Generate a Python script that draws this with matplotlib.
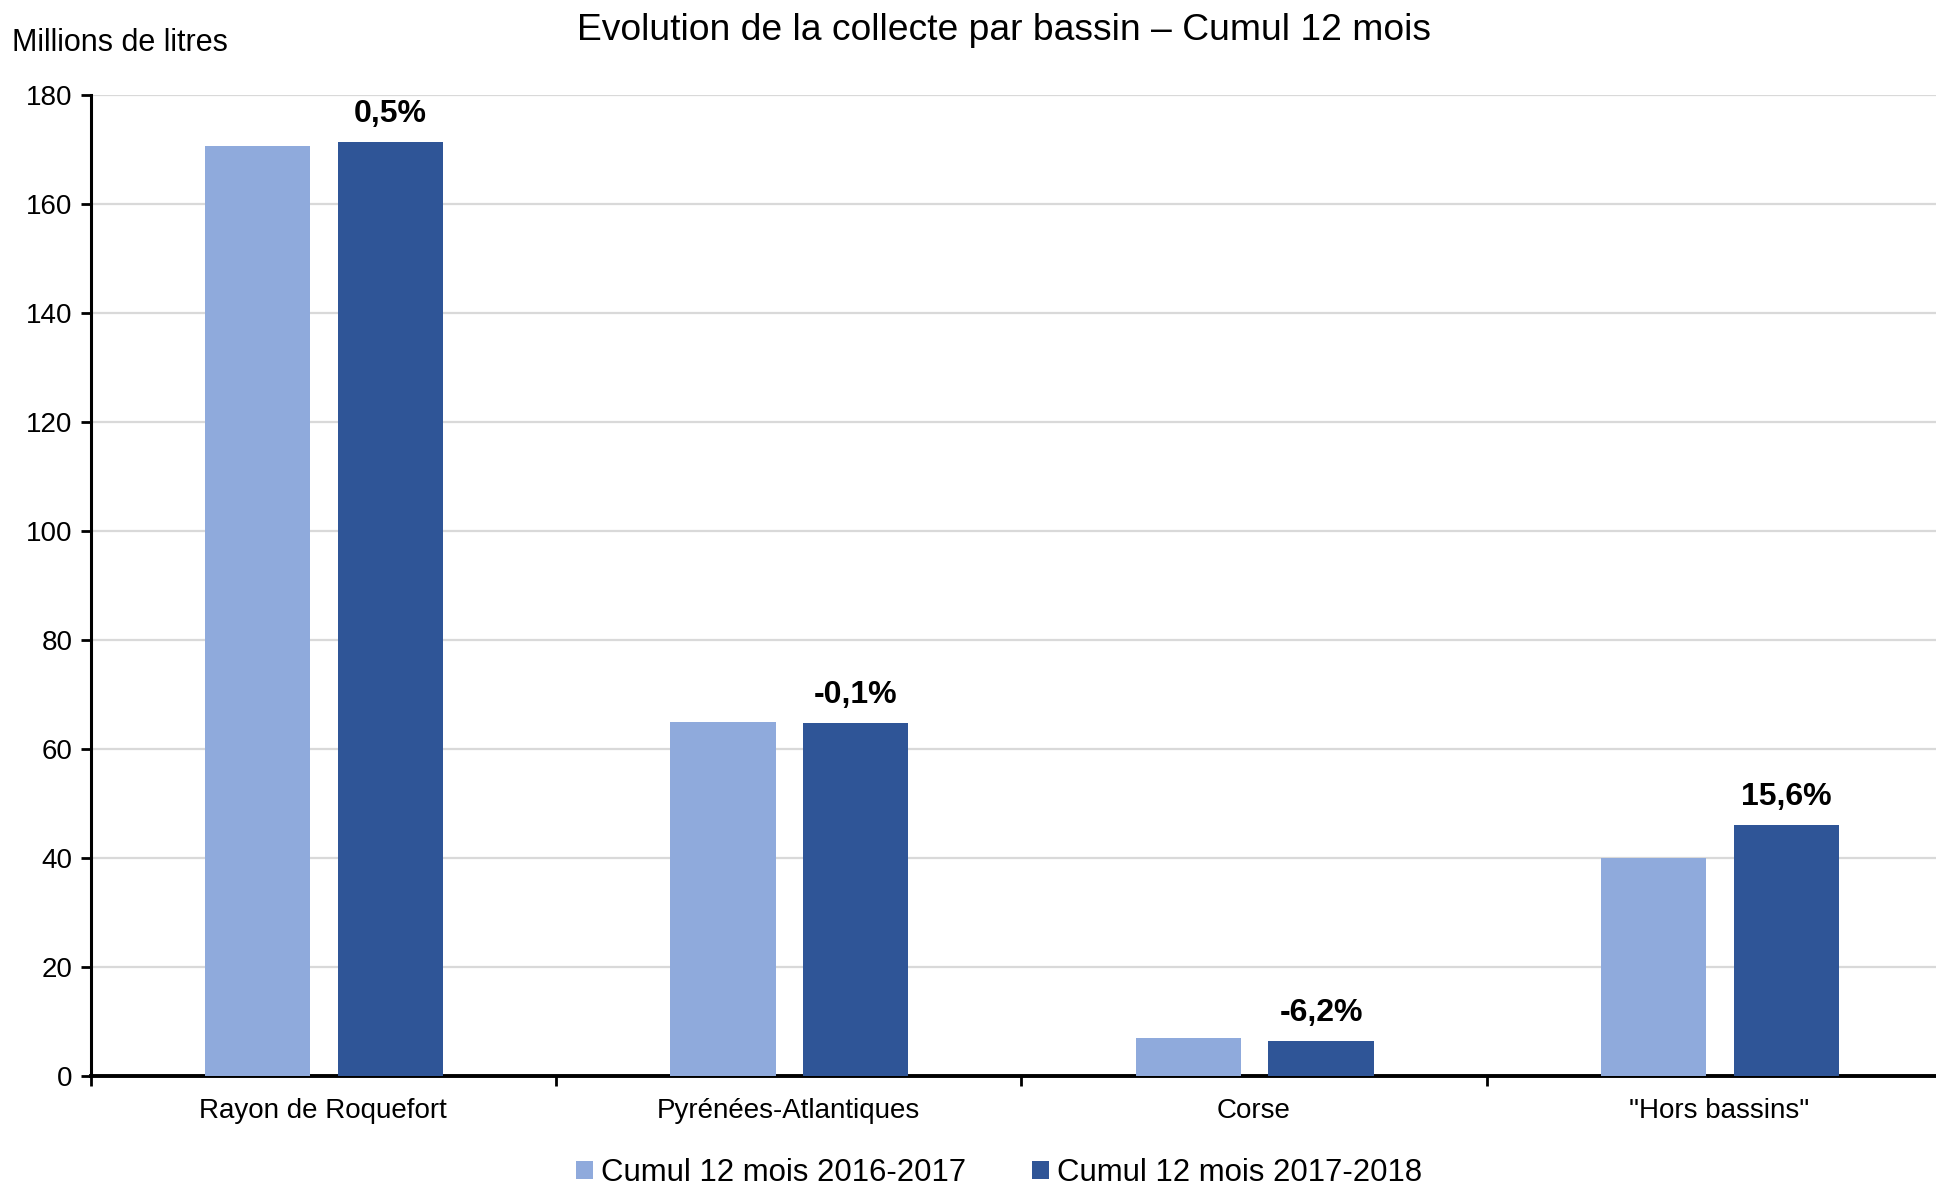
import matplotlib
matplotlib.use("Agg")
import matplotlib.pyplot as plt
import numpy as np

plt.rcParams['font.family'] = ['Liberation Sans', 'DejaVu Sans']

categories = ["Rayon de Roquefort", "Pyrénées-Atlantiques", "Corse", "\"Hors bassins\""]
serie_2016_2017 = [170.6, 64.9, 6.95, 39.95]
serie_2017_2018 = [171.4, 64.85, 6.5, 46.1]
evolutions = ["0,5%", "-0,1%", "-6,2%", "15,6%"]
series_labels = ["Cumul 12 mois 2016-2017", "Cumul 12 mois 2017-2018"]
y_ticks = [0, 20, 40, 60, 80, 100, 120, 140, 160, 180]

W, H = 1936, 1185
fig = plt.figure(figsize=(W / 100, H / 100), dpi=100)
ax = fig.add_axes([90.7 / W, (H - 1076) / H, 1861.3 / W, 981 / H])

c_light = '#8faadc'
c_dark = '#2f5597'
x = np.arange(len(categories)) + 0.5
bw = 0.226
b1 = ax.bar(x - 0.141, serie_2016_2017, width=bw, color=c_light, label=series_labels[0], zorder=3)
b2 = ax.bar(x + 0.144, serie_2017_2018, width=bw, color=c_dark, label=series_labels[1], zorder=3)

for rect, txt in zip(b2, evolutions):
    ax.annotate(txt, (rect.get_x() + rect.get_width() / 2, rect.get_height()),
                xytext=(0, 20), textcoords='offset points', ha='center', va='center',
                fontsize=23, fontweight='bold', color='black')

ax.set_xlim(0, 4)
ax.set_ylim(0, 180)
ax.set_yticks(y_ticks)
ax.tick_params(axis='y', labelsize=20, direction='out', length=7, width=2, pad=6)
ax.set_xticks(np.arange(0, 5))
ax.set_xticklabels([])
ax.set_xticks(x, minor=True)
ax.set_xticklabels(categories, minor=True)
ax.tick_params(axis='x', which='major', direction='out', length=7, width=2)
ax.tick_params(axis='x', which='minor', length=0, labelsize=20, pad=16)

ax.grid(axis='y', color='#d9d9d9', linewidth=1.6, zorder=0)
ax.set_axisbelow(True)
for s in ['top', 'right']:
    ax.spines[s].set_visible(False)
ax.spines['left'].set_linewidth(2.2)
ax.spines['bottom'].set_linewidth(2.8)

fig.text(1004 / W, 1 - 30 / H, "Evolution de la collecte par bassin – Cumul 12 mois",
         ha='center', va='center', fontsize=26.8)
fig.text(12 / W, 1 - 43 / H, "Millions de litres", ha='left', va='center', fontsize=22)

fig.legend(handles=[b1, b2], labels=series_labels, loc='center', bbox_to_anchor=(999 / W, 1 - 1173 / H),
           ncol=2, frameon=False, fontsize=22.4, handlelength=0.55, handleheight=0.55,
           handletextpad=0.25, columnspacing=2.1)

fig.savefig("out.png", dpi=100)
